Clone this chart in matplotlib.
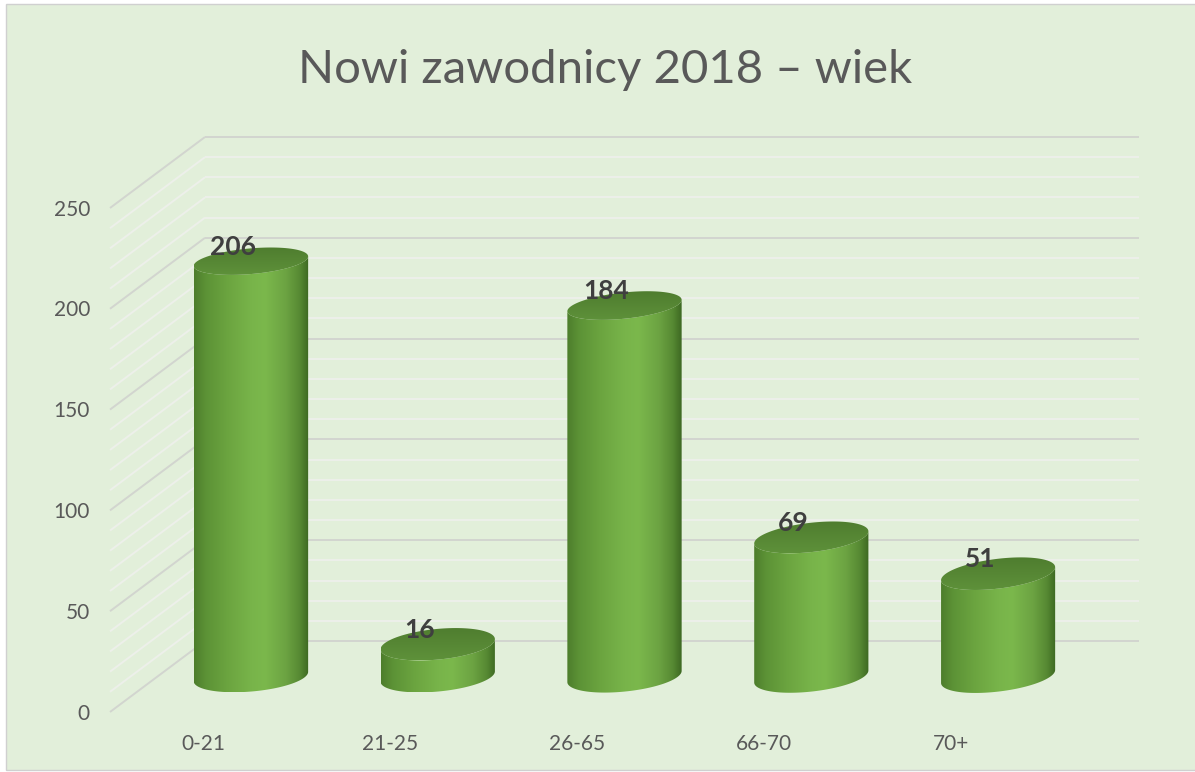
import numpy as np
import matplotlib
matplotlib.use('Agg')
import matplotlib.pyplot as plt
from matplotlib.path import Path
from matplotlib.patches import Rectangle
from matplotlib.transforms import Affine2D, IdentityTransform
from matplotlib.colors import LinearSegmentedColormap

# ---------------- data ----------------
categories = ['0-21', '21-25', '26-65', '66-70', '70+']
values = [206, 16, 184, 69, 51]
y_ticks = [0, 50, 100, 150, 200, 250]
minor_ticks = list(range(0, 251, 10))
title_text = 'Nowi zawodnicy 2018 – wiek'

# ---------------- style ----------------
W, H, DPI = 1195, 772, 100
BG = '#E2EFDA'
DX, DY = 47.5, 35.5          # depth offset (px) between mid plane and back wall
BAR_HALF = 0.3075            # half bar width in category units
TXT = '#595959'

plt.rcParams['font.family'] = ['Lato', 'DejaVu Sans']

fig = plt.figure(figsize=(W / DPI, H / DPI), dpi=DPI)
fig.patch.set_facecolor('white')
fig.add_artist(Rectangle((6.5 / W, 2.5 / H), (W - 6) / W, (H - 6) / H,
                         transform=fig.transFigure, facecolor=BG,
                         edgecolor='#D0D0D0', lw=1.0, zorder=-10))

# main data axes (mid-depth plane)
ax = fig.add_axes([157.5 / W, 95.5 / H, 934 / W, 504 / H], zorder=0)
ax.set_xlim(-0.5, len(categories) - 0.5)
ax.set_ylim(0, 250)
ax.set_axis_off()
ax.set_autoscale_on(False)

back = ax.transData + Affine2D().translate(DX, DY)
front = ax.transData + Affine2D().translate(-DX, -DY)

# gridlines: back wall + side wall
for v in minor_ticks:
    major = v % 50 == 0
    col = '#D2D5CF' if major else '#EDF0EA'
    lw = 1.4
    ax.plot([-0.5, len(categories) - 0.5], [v, v], transform=back, color=col,
            lw=lw, solid_capstyle='butt', clip_on=False, zorder=1 if major else 0.5)
    x0, y0 = ax.transData.transform((-0.5, v))
    ax.plot([x0 - DX, x0 + DX], [y0 - DY, y0 + DY], transform=IdentityTransform(),
            color=col, lw=lw, solid_capstyle='butt', clip_on=False,
            zorder=1 if major else 0.5)

# y tick labels (front edge)
for v in y_ticks:
    ax.text(-0.5, v, str(v), transform=front + Affine2D().translate(-20, -7.5),
            ha='right', va='baseline', fontsize=15, color=TXT, clip_on=False)

# category labels (front edge)
for i, c in enumerate(categories):
    ax.text(i, 0, c, transform=front + Affine2D().translate(0, -38.5),
            ha='center', va='baseline', fontsize=15, color=TXT, clip_on=False)

# overlay pixel axes for the cylinders
pix = fig.add_axes([0, 0, 1, 1], zorder=1)
pix.set_axis_off()
pix.patch.set_visible(False)

body_cmap = LinearSegmentedColormap.from_list('body', [
    (0.00, '#4D7D2B'), (0.10, '#5C9236'), (0.30, '#6CA540'),
    (0.50, '#78B44A'), (0.62, '#7BB84C'), (0.80, '#6CA342'),
    (0.92, '#578A33'), (1.00, '#3D6822')])
top_cmap = LinearSegmentedColormap.from_list('top', ['#5E913A', '#4F7D2F'])


def ellipse_pts(cx, cy, a, b, th, t):
    x = cx + a * np.cos(t) * np.cos(th) - b * np.sin(t) * np.sin(th)
    y = cy + a * np.cos(t) * np.sin(th) + b * np.sin(t) * np.cos(th)
    return np.column_stack([x, y])


for i, v in enumerate(values):
    cx, yb = ax.transData.transform((i, 0))
    _, yt = ax.transData.transform((i, v))
    a = ax.transData.transform((i + BAR_HALF, 0))[0] - cx
    th = np.radians(5 + 0.5 * i)
    b_bot = 15.0
    b_top = 15.5 - 0.0065 * (yt - yb)

    tr_b = np.arctan2(-b_bot * np.sin(th), a * np.cos(th))
    tr_t = np.arctan2(-b_top * np.sin(th), a * np.cos(th))
    low_b = ellipse_pts(cx, yb, a, b_bot, th, np.linspace(tr_b - np.pi, tr_b, 80))
    low_t = ellipse_pts(cx, yt, a, b_top, th, np.linspace(tr_t - np.pi, tr_t, 80))[::-1]
    verts = np.vstack([low_b, low_t, low_b[:1]])
    body_path = Path(verts, closed=True)

    xmin, xmax = verts[:, 0].min(), verts[:, 0].max()
    ymin, ymax = verts[:, 1].min(), verts[:, 1].max()
    grad = np.linspace(0, 1, 256)[None, :]
    im = pix.imshow(grad, cmap=body_cmap, extent=(xmin, xmax, ymin, ymax),
                    aspect='auto', interpolation='bilinear', origin='lower', zorder=2)
    im.set_clip_path(body_path, pix.transData)

    top = ellipse_pts(cx, yt, a, b_top, th, np.linspace(0, 2 * np.pi, 200))
    top_path = Path(np.vstack([top, top[:1]]), closed=True)
    tgrad = np.linspace(0, 1, 128)[:, None]
    im2 = pix.imshow(tgrad, cmap=top_cmap,
                     extent=(top[:, 0].min(), top[:, 0].max(), top[:, 1].min(), top[:, 1].max()),
                     aspect='auto', interpolation='bilinear', origin='lower', zorder=3)
    im2.set_clip_path(top_path, pix.transData)

    pix.annotate(str(v), xy=(i, v), xycoords=ax.transData,
                 xytext=(-18 * 72 / DPI, 6.5 * 72 / DPI), textcoords='offset points',
                 ha='center', va='baseline', fontsize=19, fontweight='bold',
                 color='#3F3F3F', zorder=5, annotation_clip=False)

pix.set_xlim(0, W)
pix.set_ylim(0, H)

fig.text(605 / W, (H - 83) / H, title_text, ha='center', va='baseline',
         fontsize=34, color=TXT, fontweight='normal')

fig.savefig('out.png', dpi=DPI)
